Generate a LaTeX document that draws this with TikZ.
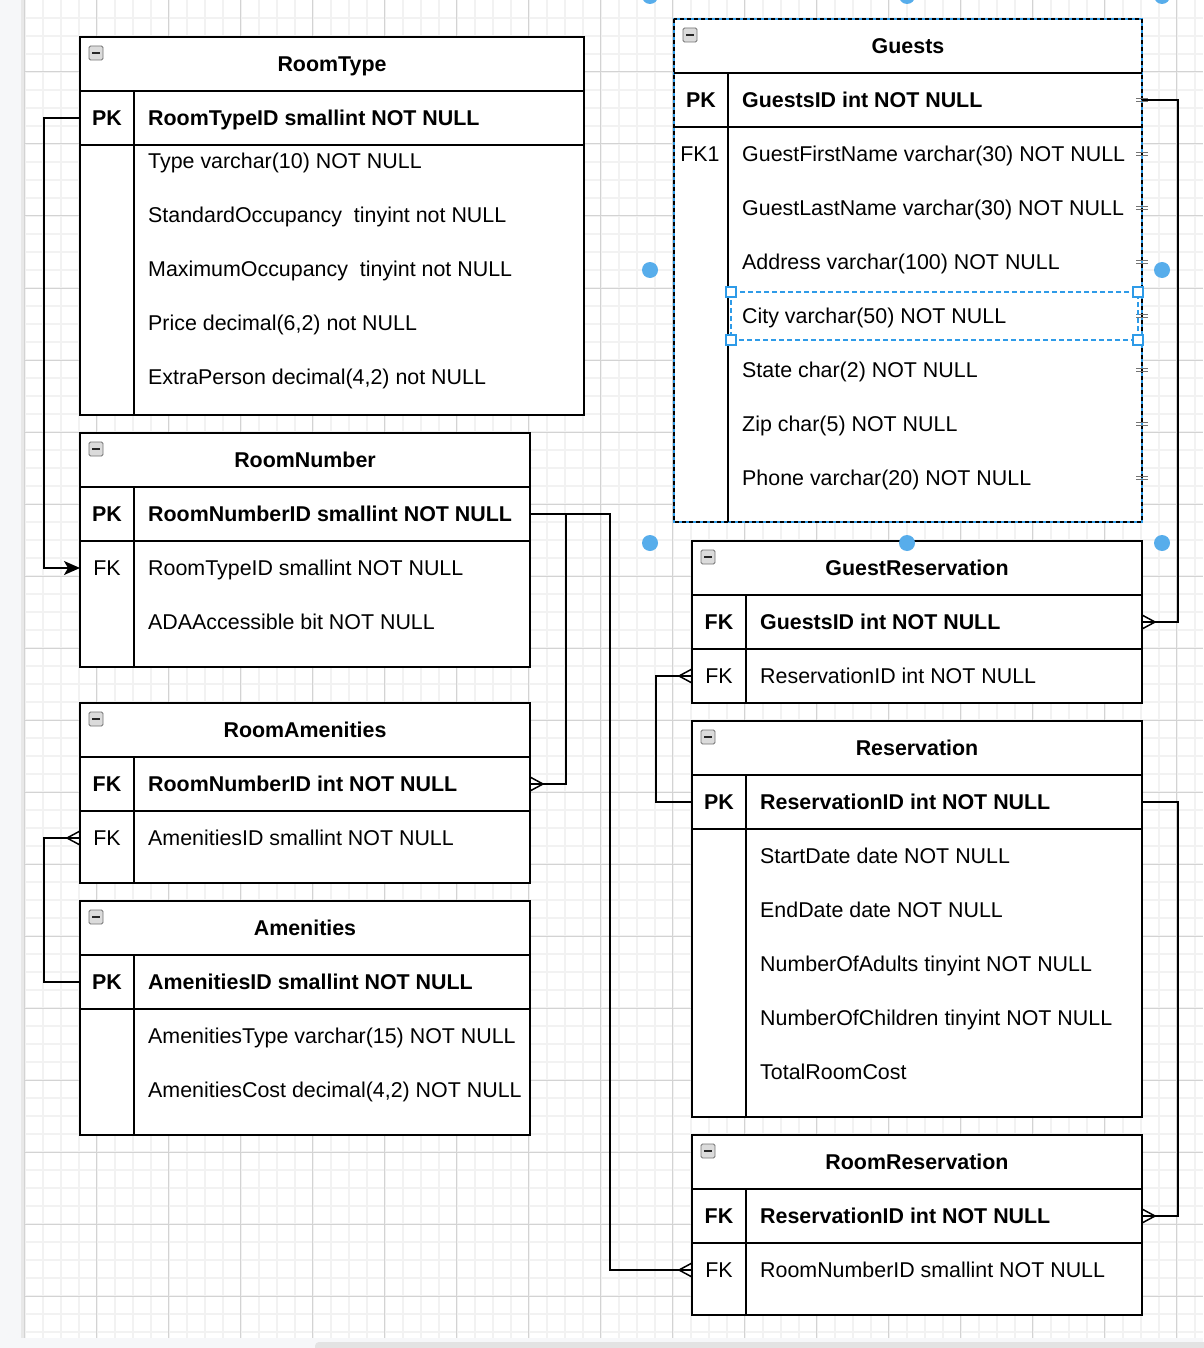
\documentclass[tikz,border=0pt]{standalone}
\usepackage{fontspec}
\setmainfont{Liberation Sans}
\usetikzlibrary{arrows.meta,calc}

\definecolor{gridmajor}{HTML}{D3D3D3}
\definecolor{gridminor}{HTML}{F2F2F2}
\definecolor{selblue}{HTML}{2E9BE8}
\definecolor{handleblue}{HTML}{57ADEB}
\definecolor{panel}{HTML}{F6F7F9}

\newcommand\erfont{\fontsize{21.4pt}{25pt}\selectfont}

\tikzset{
	tblbox/.style = {draw, line width=2pt, fill=white, inner sep=0pt, outer sep=0pt, anchor=north west},
	sep/.style = {line width=2pt},
	erbase/.style = {inner sep=0pt, text height=15.3pt, text depth=0pt},
	titletext/.style = {erbase, font=\erfont\bfseries},
	keytext/.style = {erbase, font=\erfont},
	keybold/.style = {erbase, font=\erfont\bfseries},
	fieldtext/.style = {erbase, anchor=west, font=\erfont},
	fieldbold/.style = {erbase, anchor=west, font=\erfont\bfseries},
	conn/.style = {line width=1.5pt},
	tick/.style = {line width=1.3pt, black!55},
	collapse/.pic = {
		\draw[black!55, fill=black!14, rounded corners=1.5pt, line width=0.9pt] (-7,-7) rectangle (7,7);
		\draw[line width=2pt, black!85] (-4,0) -- (4,0);
	},
	manyfoot/.pic = {
		\draw[conn] (0,-7) -- (13,0) -- (0,7);
	},
}

\begin{document}
\begin{tikzpicture}[x=1pt, y=-1pt]
	\useasboundingbox (0,0) rectangle (1203,1348);

	% canvas and grid
	\fill[panel] (0,0) rectangle (1203,1348);
	\fill[white] (24,0) rectangle (1203,1338);
	\fill[black!9] (21,0) rectangle (24,1338);
	\foreach \gx in {24.5,42.5,...,1203} \draw[gridminor, line width=2pt] (\gx,0) -- (\gx,1338);
	\foreach \gy in {18,36,...,1338} \draw[gridminor, line width=2pt] (24,\gy) -- (1203,\gy);
	\foreach \gx in {24.5,96.5,...,1203} \draw[gridmajor, line width=1pt] (\gx,0) -- (\gx,1338);
	\foreach \gy in {0,72,...,1338} \draw[gridmajor, line width=1pt] (24,\gy) -- (1203,\gy);
	\fill[black!11, rounded corners=4pt] (315,1342) rectangle (1215,1354);

	% RoomType
	\node[tblbox, minimum width=504pt, minimum height=378pt] (roomtype) at (80,37) {};
	\draw[sep] (80,91) -- (584,91) (80,145) -- (584,145) (134,91) -- (134,415);
	\pic at (96,53) {collapse};
	\node[titletext] (rt-title) at (332,64) {RoomType};
	\node[keybold] (rt-pk) at (107,118) {PK};
	\node[fieldbold] (rt-id) at (148,118) {RoomTypeID smallint NOT NULL};
	\node[fieldtext] (rt-type) at (148,161) {Type varchar(10) NOT NULL};
	\node[fieldtext] (rt-std) at (148,215) {StandardOccupancy~~tinyint not NULL};
	\node[fieldtext] (rt-max) at (148,269) {MaximumOccupancy~~tinyint not NULL};
	\node[fieldtext] (rt-price) at (148,323) {Price decimal(6,2) not NULL};
	\node[fieldtext] (rt-extra) at (148,377) {ExtraPerson decimal(4,2) not NULL};

	% RoomNumber
	\node[tblbox, minimum width=450pt, minimum height=234pt] (roomnumber) at (80,433) {};
	\draw[sep] (80,487) -- (530,487) (80,541) -- (530,541) (134,487) -- (134,667);
	\pic at (96,449) {collapse};
	\node[titletext] (rn-title) at (305,460) {RoomNumber};
	\node[keybold] (rn-pk) at (107,514) {PK};
	\node[fieldbold] (rn-id) at (148,514) {RoomNumberID smallint NOT NULL};
	\node[keytext] (rn-fk) at (107,568) {FK};
	\node[fieldtext] (rn-type) at (148,568) {RoomTypeID smallint NOT NULL};
	\node[fieldtext] (rn-ada) at (148,622) {ADAAccessible bit NOT NULL};

	% RoomAmenities
	\node[tblbox, minimum width=450pt, minimum height=180pt] (roomamen) at (80,703) {};
	\draw[sep] (80,757) -- (530,757) (80,811) -- (530,811) (134,757) -- (134,883);
	\pic at (96,719) {collapse};
	\node[titletext] (ra-title) at (305,730) {RoomAmenities};
	\node[keybold] (ra-fk) at (107,784) {FK};
	\node[fieldbold] (ra-room) at (148,784) {RoomNumberID int NOT NULL};
	\node[keytext] (ra-fk2) at (107,838) {FK};
	\node[fieldtext] (ra-amen) at (148,838) {AmenitiesID smallint NOT NULL};

	% Amenities
	\node[tblbox, minimum width=450pt, minimum height=234pt] (amenities) at (80,901) {};
	\draw[sep] (80,955) -- (530,955) (80,1009) -- (530,1009) (134,955) -- (134,1135);
	\pic at (96,917) {collapse};
	\node[titletext] (am-title) at (305,928) {Amenities};
	\node[keybold] (am-pk) at (107,982) {PK};
	\node[fieldbold] (am-id) at (148,982) {AmenitiesID smallint NOT NULL};
	\node[fieldtext] (am-type) at (148,1036) {AmenitiesType varchar(15) NOT NULL};
	\node[fieldtext] (am-cost) at (148,1090) {AmenitiesCost decimal(4,2) NOT NULL};

	% Guests (selected)
	\node[tblbox, draw=none, minimum width=468pt, minimum height=503pt] (guests) at (674,19) {};
	\draw[selblue, line width=1.5pt] (guests.north west) rectangle (guests.south east);
	\draw[black, line width=1.5pt, dash pattern=on 4pt off 3pt] (guests.north west) rectangle (guests.south east);
	\draw[sep] (674,73) -- (1142,73) (674,127) -- (1142,127) (728,73) -- (728,522);
	\pic at (690,35) {collapse};
	\node[titletext] (g-title) at (908,46) {Guests};
	\node[keybold] (g-pk) at (701,100) {PK};
	\node[fieldbold] (g-id) at (742,100) {GuestsID int NOT NULL};
	\node[keytext] (g-fk) at (700,154) {FK1};
	\node[fieldtext] (g-first) at (742,154) {GuestFirstName varchar(30) NOT NULL};
	\node[fieldtext] (g-last) at (742,208) {GuestLastName varchar(30) NOT NULL};
	\node[fieldtext] (g-addr) at (742,262) {Address varchar(100) NOT NULL};
	\node[fieldtext] (g-city) at (742,316) {City varchar(50) NOT NULL};
	\node[fieldtext] (g-state) at (742,370) {State char(2) NOT NULL};
	\node[fieldtext] (g-zip) at (742,424) {Zip char(5) NOT NULL};
	\node[fieldtext] (g-phone) at (742,478) {Phone varchar(20) NOT NULL};

	% GuestReservation
	\node[tblbox, minimum width=450pt, minimum height=162pt] (guestres) at (692,541) {};
	\draw[sep] (692,595) -- (1142,595) (692,649) -- (1142,649) (746,595) -- (746,703);
	\pic at (708,557) {collapse};
	\node[titletext] (gr-title) at (917,568) {GuestReservation};
	\node[keybold] (gr-fk) at (719,622) {FK};
	\node[fieldbold] (gr-guest) at (760,622) {GuestsID int NOT NULL};
	\node[keytext] (gr-fk2) at (719,676) {FK};
	\node[fieldtext] (gr-res) at (760,676) {ReservationID int NOT NULL};

	% Reservation
	\node[tblbox, minimum width=450pt, minimum height=396pt] (reservation) at (692,721) {};
	\draw[sep] (692,775) -- (1142,775) (692,829) -- (1142,829) (746,775) -- (746,1117);
	\pic at (708,737) {collapse};
	\node[titletext] (rs-title) at (917,748) {Reservation};
	\node[keybold] (rs-pk) at (719,802) {PK};
	\node[fieldbold] (rs-id) at (760,802) {ReservationID int NOT NULL};
	\node[fieldtext] (rs-start) at (760,856) {StartDate date NOT NULL};
	\node[fieldtext] (rs-end) at (760,910) {EndDate date NOT NULL};
	\node[fieldtext] (rs-adults) at (760,964) {NumberOfAdults tinyint NOT NULL};
	\node[fieldtext] (rs-child) at (760,1018) {NumberOfChildren tinyint NOT NULL};
	\node[fieldtext] (rs-cost) at (760,1072) {TotalRoomCost};

	% RoomReservation
	\node[tblbox, minimum width=450pt, minimum height=180pt] (roomres) at (692,1135) {};
	\draw[sep] (692,1189) -- (1142,1189) (692,1243) -- (1142,1243) (746,1189) -- (746,1315);
	\pic at (708,1151) {collapse};
	\node[titletext] (rr-title) at (917,1162) {RoomReservation};
	\node[keybold] (rr-fk) at (719,1216) {FK};
	\node[fieldbold] (rr-res) at (760,1216) {ReservationID int NOT NULL};
	\node[keytext] (rr-fk2) at (719,1270) {FK};
	\node[fieldtext] (rr-room) at (760,1270) {RoomNumberID smallint NOT NULL};

	% relations
	\draw[conn, -{Stealth[length=16pt, width=14pt, inset=4pt]}] (roomtype.west |- rt-pk) -- ++(-36,0) |- (roomnumber.west |- rn-fk);
	\draw[conn] (roomnumber.east |- rn-pk) -- ++(36,0) |- (roomamen.east |- ra-fk);
	\draw[conn] (roomnumber.east |- rn-pk) -- ++(80,0) |- (roomres.west |- rr-fk2);
	\draw[conn] (amenities.west |- am-pk) -- ++(-36,0) |- (roomamen.west |- ra-fk2);
	\draw[conn] (reservation.west |- rs-pk) -- ++(-36,0) |- (guestres.west |- gr-fk2);
	\draw[conn] (reservation.east |- rs-pk) -- ++(36,0) |- (roomres.east |- rr-fk);
	\draw[conn] (guests.east |- g-pk) -- ++(36,0) |- (guestres.east |- gr-fk);
	\pic at (roomamen.east |- ra-fk) {manyfoot};
	\pic[xscale=-1] at (roomamen.west |- ra-fk2) {manyfoot};
	\pic[xscale=-1] at (roomres.west |- rr-fk2) {manyfoot};
	\pic[xscale=-1] at (guestres.west |- gr-fk2) {manyfoot};
	\pic at (roomres.east |- rr-fk) {manyfoot};
	\pic at (guestres.east |- gr-fk) {manyfoot};

	% connection ticks on Guests
	\foreach \ty in {100,154,...,478}
		\draw[tick] (1136,\ty-1.8) -- ++(12,0) (1136,\ty+1.8) -- ++(12,0);

	% selection marks
	\draw[selblue, line width=1.2pt, dash pattern=on 5pt off 3pt] (731,292) rectangle (1138,340);
	\foreach \hx/\hy in {731/292, 1138/292, 731/340, 1138/340}
		\draw[selblue, fill=white, line width=1.2pt] (\hx-5,\hy-5) rectangle ++(10,10);
	\foreach \dx/\dy in {650/-4, 907/-4, 1162/-4, 650/270, 1162/270, 650/543, 907/543, 1162/543}
		\fill[handleblue] (\dx,\dy) circle (8);
\end{tikzpicture}
\end{document}
